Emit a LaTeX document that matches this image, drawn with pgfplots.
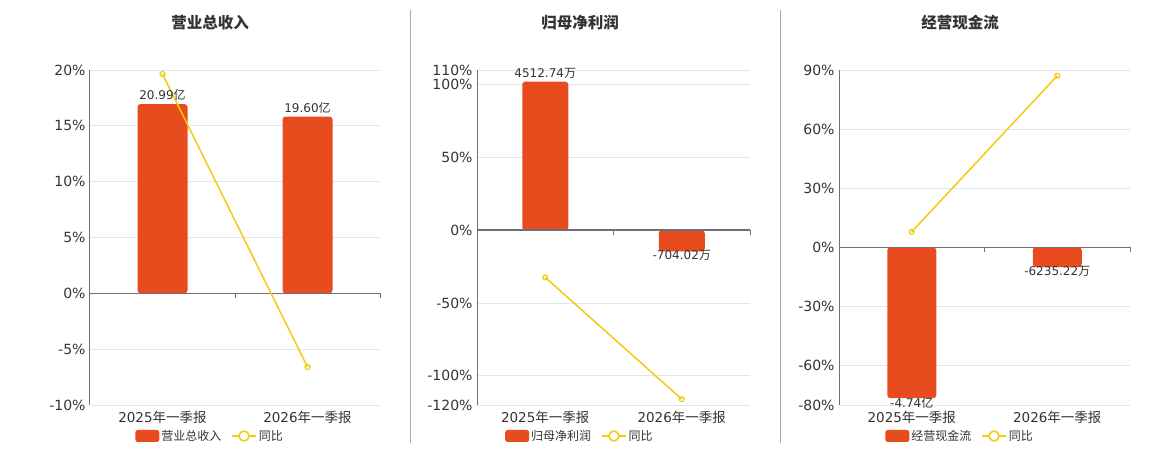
\documentclass[border=0pt]{standalone}
\usepackage{pgfplots}
\pgfplotsset{compat=1.18}
\usepackage{fontspec}
\setmainfont{DejaVu Sans}
\newfontfamily\cjk{Noto Sans CJK SC}
\definecolor{barcol}{HTML}{E84C1E}
\definecolor{linecol}{HTML}{F2CB0C}
\definecolor{gridcol}{HTML}{E0E6F1}
\definecolor{axiscol}{HTML}{6E7079}
\definecolor{txt}{HTML}{333333}
\definecolor{sepcol}{HTML}{AAAAAA}
\tikzset{zeroline/.style={axiscol, line width=1.5pt}}
\pgfplotsset{
  panel/.style={
    scale only axis, height=335pt,
    xmin=-0.5, xmax=1.5, xtick={0,1},
    xticklabels={2025{\cjk 年一季报},2026{\cjk 年一季报}},
    axis y line*=left, axis x line*=bottom,
    x axis line style={draw=none},
    y axis line style={draw=axiscol, line width=1pt},
    major tick length=0pt,
    ymajorgrids, grid style={gridcol, line width=0.8pt},
    yticklabel style={font=\fontsize{14}{14}\selectfont, text=txt, xshift=-1pt},
    xticklabel style={font=\fontsize{13.5}{13.5}\selectfont, text=txt, yshift=-3pt},
    yticklabel={\pgfmathprintnumber[fixed,precision=0]{\tick}\%},
    /pgf/number format/assume math mode=true,
    clip=false,
    legend style={draw=none, fill=none, legend columns=2, font=\fontsize{12}{12}\selectfont\cjk, text=txt,
      /tikz/every even column/.append style={column sep=8pt}, anchor=center},
    legend cell align=left,
  },
  barplot/.style={ybar, bar width=#1, fill=barcol, draw=none, rounded corners=3pt,
    nodes near coords, point meta=explicit symbolic,
    visualization depends on={y \as \rawy},
    every node near coord/.append style={font=\fontsize{12}{12}\selectfont, text=txt, rounded corners=0pt,
      inner ysep=3pt},
    every node near coord/.append code={\ifdim\rawy pt<0pt \pgfkeysalso{anchor=north,yshift=3.8pt}\else\pgfkeysalso{anchor=south}\fi},
    legend image code/.code={\fill[barcol, rounded corners=2.5pt] (0pt,-6pt) rectangle (24pt,6pt);}},
  lineplot/.style={linecol, line width=1.5pt, mark=o, mark size=2.5pt, mark options={fill=white, line width=1.2pt},
    legend image code/.code={\draw[linecol,line width=1.5pt] (0pt,0pt) -- (24pt,0pt); \draw[linecol,line width=1.5pt,fill=white] (12pt,0pt) circle (5pt);}},
}
\begin{document}
\begin{tikzpicture}
\useasboundingbox (0,0) rectangle (1160pt,450pt);
\draw[sepcol, line width=1pt] (410pt,7pt) -- (410pt,440pt);
\draw[sepcol, line width=1pt] (780pt,7pt) -- (780pt,440pt);
\node[font=\fontsize{15.5}{15.5}\selectfont\cjk\bfseries, text=txt] at (210pt,427pt) {营业总收入};
\node[font=\fontsize{15.5}{15.5}\selectfont\cjk\bfseries, text=txt] at (580pt,427pt) {归母净利润};
\node[font=\fontsize{15.5}{15.5}\selectfont\cjk\bfseries, text=txt] at (960pt,427pt) {经营现金流};

% Panel 1
\begin{axis}[panel, at={(90pt,45pt)}, anchor=south west, width=290pt,
  ymin=-10, ymax=20, ytick={-10,-5,0,5,10,15,20},
  legend style={at={(0.414,-0.0925)}}]
\addplot[barplot=50pt] coordinates {(0,16.95) [20.99{\cjk 亿}] (1,15.83) [19.60{\cjk 亿}]};
\addlegendentry{营业总收入}
\draw[zeroline] (axis cs:-0.5,0) -- (axis cs:1.5,0);
\draw[axiscol, line width=1pt] (axis cs:0.5,0) -- ++(0pt,-5pt);
\draw[axiscol, line width=1pt] (axis cs:1.5,0) -- ++(0pt,-5pt);
\addplot[lineplot] coordinates {(0,19.64) (1,-6.6)};
\addlegendentry{同比}
\end{axis}

% Panel 2
\begin{axis}[panel, at={(477pt,45pt)}, anchor=south west, width=273pt,
  ymin=-120, ymax=110, ytick={-120,-100,-50,0,50,100,110},
  legend style={at={(0.377,-0.0925)}}]
\addplot[barplot=46pt] coordinates {(0,102) [4512.74{\cjk 万}] (1,-14.5) [-704.02{\cjk 万}]};
\addlegendentry{归母净利润}
\draw[zeroline] (axis cs:-0.5,0) -- (axis cs:1.5,0);
\draw[axiscol, line width=1pt] (axis cs:0.5,0) -- ++(0pt,-5pt);
\draw[axiscol, line width=1pt] (axis cs:1.5,0) -- ++(0pt,-5pt);
\addplot[lineplot] coordinates {(0,-32.4) (1,-116)};
\addlegendentry{同比}
\end{axis}

% Panel 3
\begin{axis}[panel, at={(839pt,45pt)}, anchor=south west, width=291pt,
  ymin=-80, ymax=90, ytick={-80,-60,-30,0,30,60,90},
  legend style={at={(0.416,-0.0925)}}]
\addplot[barplot=49pt] coordinates {(0,-76.5) [-4.74{\cjk 亿}] (1,-10) [-6235.22{\cjk 万}]};
\addlegendentry{经营现金流}
\draw[zeroline] (axis cs:-0.5,0) -- (axis cs:1.5,0);
\draw[axiscol, line width=1pt] (axis cs:0.5,0) -- ++(0pt,-5pt);
\draw[axiscol, line width=1pt] (axis cs:1.5,0) -- ++(0pt,-5pt);
\addplot[lineplot] coordinates {(0,7.9) (1,87.1)};
\addlegendentry{同比}
\end{axis}
\end{tikzpicture}
\end{document}
